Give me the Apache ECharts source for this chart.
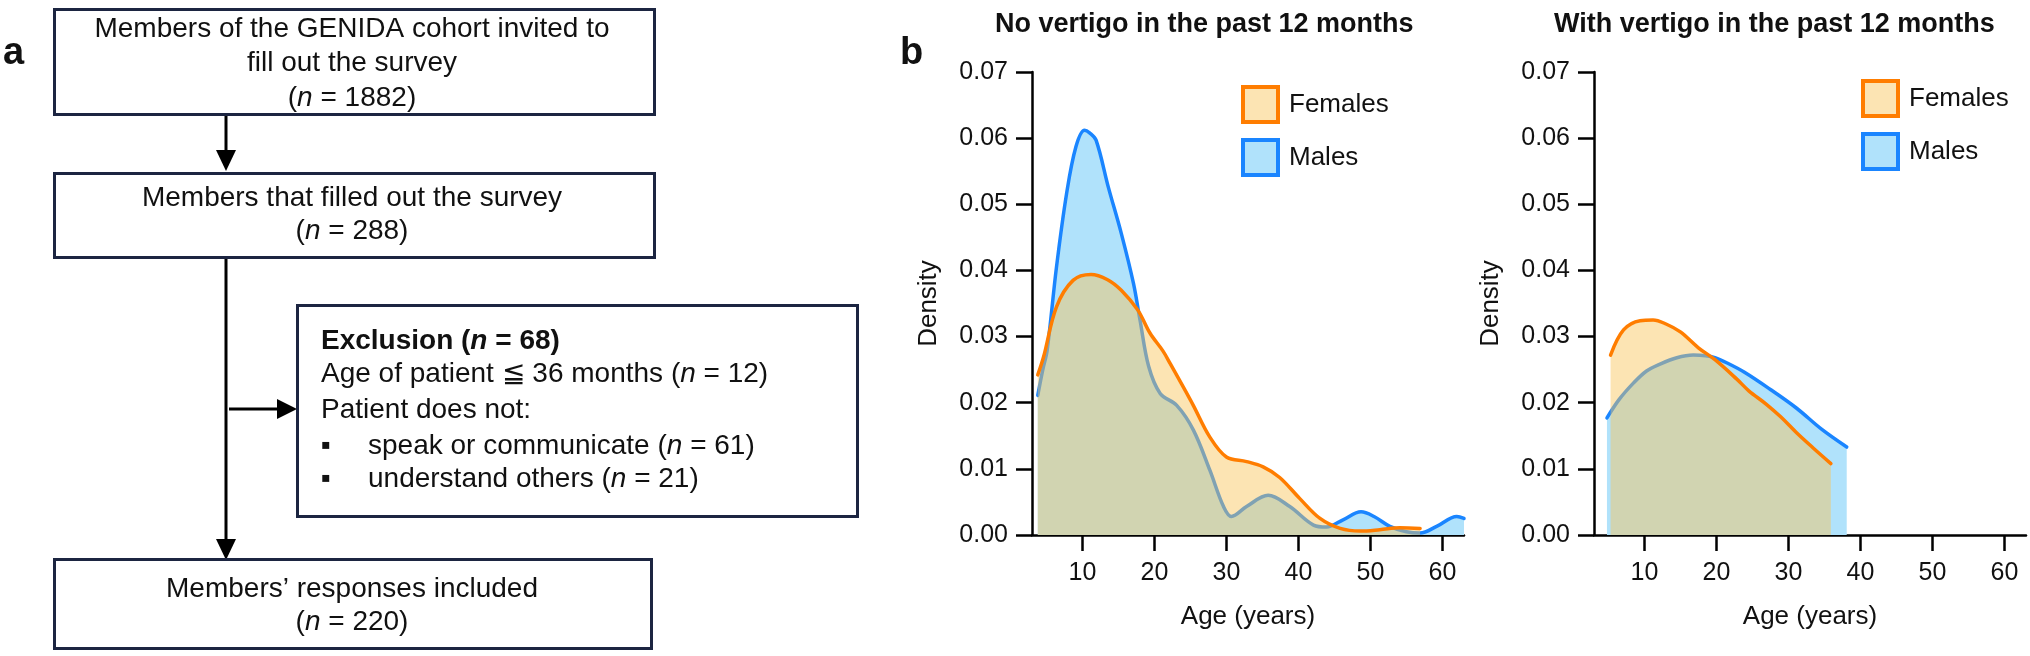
<!DOCTYPE html>
<html><head><meta charset="utf-8">
<script src="https://cdn.jsdelivr.net/npm/echarts@6/dist/echarts.min.js"></script>
<style>html,body{margin:0;padding:0;background:#fff}#c{width:2030px;height:656px}</style>
</head><body><div id="c"></div>
<script>
const FONT = '"Liberation Sans", Arial, Helvetica, sans-serif';

// ---- data ----
const panelTitles = ['No vertigo in the past 12 months', 'With vertigo in the past 12 months'];
const seriesNames = ['Females', 'Males'];
const xTicks = [10, 20, 30, 40, 50, 60];
const yTicks = [0, 0.01, 0.02, 0.03, 0.04, 0.05, 0.06, 0.07];

const noVertigoMalesAge = [3.8, 4.5, 5.1, 6.4, 7.8, 9.1, 10.3, 11.0, 11.9, 13.6, 15.4, 17.1, 18.0, 19.2, 20.8, 23.1, 25.4, 27.7, 29.6, 30.7, 32.8, 35.8, 38.8, 42.1, 43.9, 46.2, 48.7, 50.5, 52.7, 55.0, 56.9, 59.2, 62.0, 63.0];
const noVertigoMalesDensity = [0.0211, 0.0250, 0.0279, 0.0405, 0.0516, 0.0587, 0.0612, 0.0608, 0.0597, 0.0526, 0.0456, 0.0380, 0.0325, 0.0255, 0.0214, 0.0196, 0.0159, 0.0098, 0.0043, 0.0028, 0.0043, 0.0060, 0.0043, 0.0015, 0.0012, 0.0023, 0.0035, 0.0028, 0.0013, 0.0005, 0.0003, 0.0013, 0.0028, 0.0025];

const noVertigoFemalesAge = [3.8, 4.6, 6.4, 8.7, 11.2, 13.5, 15.4, 17.7, 19.4, 21.2, 22.2, 24.1, 25.4, 27.7, 30.0, 32.8, 35.1, 37.4, 40.2, 43.0, 45.8, 48.6, 51.3, 54.1, 56.9];
const noVertigoFemalesDensity = [0.0242, 0.0269, 0.0345, 0.0385, 0.0394, 0.0386, 0.0370, 0.0340, 0.0305, 0.0278, 0.0259, 0.0222, 0.0196, 0.0148, 0.0118, 0.0111, 0.0103, 0.0087, 0.0055, 0.0025, 0.0010, 0.0006, 0.0008, 0.0011, 0.0010];

const withVertigoMalesAge = [4.8, 6.5, 8.5, 10.3, 12.1, 14.5, 16.8, 18.5, 19.8, 21.5, 23.9, 27.5, 31.1, 34.6, 38.1];
const withVertigoMalesDensity = [0.0177, 0.0205, 0.0230, 0.0248, 0.0258, 0.0268, 0.0272, 0.0271, 0.0268, 0.0260, 0.0246, 0.0220, 0.0192, 0.0160, 0.0133];

const withVertigoFemalesAge = [5.3, 7.1, 9.4, 11.2, 13.0, 15.0, 17.5, 19.8, 22.8, 24.5, 26.9, 29.0, 31.1, 33.4, 35.9];
const withVertigoFemalesDensity = [0.0272, 0.0310, 0.0324, 0.0325, 0.0319, 0.0307, 0.0283, 0.0265, 0.0236, 0.0218, 0.0198, 0.0178, 0.0155, 0.0132, 0.0108];

// ---- styles ----
const ORANGE = '#ff7d00';
const BLUE = '#1a85ff';
const ORANGE_FILL = 'rgba(248,196,90,0.46)';
const BLUE_FILL = 'rgb(176,226,251)';
const BOX = '#1c2541';

const zip = (xs, ys) => xs.map((x, i) => [x, ys[i]]);

function xAxisDef(gridIndex) {
  return {
    type: 'value', gridIndex, min: 3, max: 63,
    axisLine: { show: true, lineStyle: { color: '#000', width: 2.5 } },
    axisTick: { show: true, length: 16, customValues: xTicks, lineStyle: { color: '#000', width: 2.5 } },
    axisLabel: { customValues: xTicks, fontSize: 25, fontFamily: FONT, color: '#111', margin: 26 },
    splitLine: { show: false },
    name: 'Age (years)', nameLocation: 'middle', nameGap: 69,
    nameTextStyle: { fontSize: 26, fontFamily: FONT, color: '#111' }
  };
}
function yAxisDef(gridIndex) {
  return {
    type: 'value', gridIndex, min: 0, max: 0.07, interval: 0.01,
    axisLine: { show: true, lineStyle: { color: '#000', width: 2.5 } },
    axisTick: { show: true, length: 16, lineStyle: { color: '#000', width: 2.5 } },
    axisLabel: { fontSize: 25, fontFamily: FONT, color: '#111', margin: 24, formatter: v => v.toFixed(2) },
    splitLine: { show: false },
    name: 'Density', nameLocation: 'middle', nameGap: 90,
    nameTextStyle: { fontSize: 26, fontFamily: FONT, color: '#111' }
  };
}
function areaSeries(name, data, idx, line, fill, z) {
  return {
    type: 'line', name, data, xAxisIndex: idx, yAxisIndex: idx, z,
    smooth: 0.35, symbol: 'none', showSymbol: false,
    lineStyle: { color: line, width: 3.5, cap: 'round' },
    itemStyle: { color: line },
    areaStyle: { color: fill, opacity: 1 },
    emphasis: { disabled: true }
  };
}
function legendDef(left, top) {
  return {
    left, top, orient: 'vertical', icon: 'rect',
    itemWidth: 35, itemHeight: 35, itemGap: 14,
    textStyle: { fontSize: 26, fontFamily: FONT, color: '#111', padding: [0, 0, 0, 6] },
    data: [
      { name: seriesNames[0], itemStyle: { color: '#fce4b3', borderColor: ORANGE, borderWidth: 4 } },
      { name: seriesNames[1], itemStyle: { color: '#b0e2fb', borderColor: BLUE, borderWidth: 4 } }
    ]
  };
}

// ---- flowchart (panel a) ----
const txt = (text, x, y, align, extra) => Object.assign({
  type: 'text', style: Object.assign({
    text, x, y, align: align || 'center', verticalAlign: 'middle',
    fontSize: 28, fontFamily: FONT, fill: '#111',
    rich: {
      i: { fontStyle: 'italic', fontSize: 28, fontFamily: FONT, fill: '#111' },
      bi: { fontStyle: 'italic', fontWeight: 'bold', fontSize: 28, fontFamily: FONT, fill: '#111' },
      b: { fontWeight: 'bold', fontSize: 28, fontFamily: FONT, fill: '#111' }
    }
  }, extra || {})
});
const box = (x, y, w, h) => ({ type: 'rect', shape: { x, y, width: w, height: h }, style: { fill: '#fff', stroke: BOX, lineWidth: 3 } });
const line = (x1, y1, x2, y2) => ({ type: 'line', shape: { x1, y1, x2, y2 }, style: { stroke: '#000', lineWidth: 3 } });
const head = (pts) => ({ type: 'polygon', shape: { points: pts }, style: { fill: '#000' } });

const graphics = [
  { type: 'text', style: { text: 'a', x: 3, y: 35, verticalAlign: 'alphabetic', fontSize: 38, fontWeight: 'bold', fontFamily: FONT, fill: '#111' } },
  { type: 'text', style: { text: 'b', x: 900, y: 35, verticalAlign: 'alphabetic', fontSize: 38, fontWeight: 'bold', fontFamily: FONT, fill: '#111' } },
  line(226, 115, 226, 152), head([[216, 150], [236, 150], [226, 171]]),
  line(226, 258, 226, 541), head([[216, 539], [236, 539], [226, 560]]),
  line(229, 409, 279, 409), head([[277, 399], [277, 419], [297, 409]]),
  box(54.5, 9.5, 600, 105),
  box(54.5, 173.5, 600, 84),
  box(297.5, 305.5, 560, 211),
  box(54.5, 559.5, 597, 89),
  txt('Members of the GENIDA cohort invited to', 352, 29),
  txt('fill out the survey', 352, 63),
  txt('({i|n} = 1882)', 352, 98),
  txt('Members that filled out the survey', 352, 198),
  txt('({i|n} = 288)', 352, 231),
  txt('{b|Exclusion (}{bi|n}{b| = 68)}', 321, 341, 'left'),
  txt('Age of patient ≦ 36 months ({i|n} = 12)', 321, 374, 'left'),
  txt('Patient does not:', 321, 410, 'left'),
  txt('▪', 321, 446, 'left'),
  txt('speak or communicate ({i|n} = 61)', 368, 446, 'left'),
  txt('▪', 321, 479, 'left'),
  txt('understand others ({i|n} = 21)', 368, 479, 'left'),
  txt('Members’ responses included', 352, 589),
  txt('({i|n} = 220)', 352, 622)
];

const option = {
  animation: false,
  backgroundColor: '#fff',
  title: [
    { text: panelTitles[0], left: 990, top: 6, textStyle: { fontSize: 27, fontWeight: 'bold', fontFamily: FONT, color: '#111' } },
    { text: panelTitles[1], left: 1549, top: 6, textStyle: { fontSize: 27, fontWeight: 'bold', fontFamily: FONT, color: '#111' } }
  ],
  grid: [
    { left: 1032, right: 566, top: 72, bottom: 121, containLabel: false },
    { left: 1594, right: 4, top: 72, bottom: 121, containLabel: false }
  ],
  xAxis: [xAxisDef(0), xAxisDef(1)],
  yAxis: [yAxisDef(0), yAxisDef(1)],
  legend: [legendDef(1236, 80), legendDef(1856, 74)],
  series: [
    areaSeries(seriesNames[1], zip(noVertigoMalesAge, noVertigoMalesDensity), 0, BLUE, BLUE_FILL, 2),
    areaSeries(seriesNames[0], zip(noVertigoFemalesAge, noVertigoFemalesDensity), 0, ORANGE, ORANGE_FILL, 3),
    areaSeries(seriesNames[1], zip(withVertigoMalesAge, withVertigoMalesDensity), 1, BLUE, BLUE_FILL, 2),
    areaSeries(seriesNames[0], zip(withVertigoFemalesAge, withVertigoFemalesDensity), 1, ORANGE, ORANGE_FILL, 3)
  ],
  graphic: graphics
};

const chart = echarts.init(document.getElementById('c'), null, { renderer: 'canvas' });
chart.setOption(option);
</script>
</body></html>
